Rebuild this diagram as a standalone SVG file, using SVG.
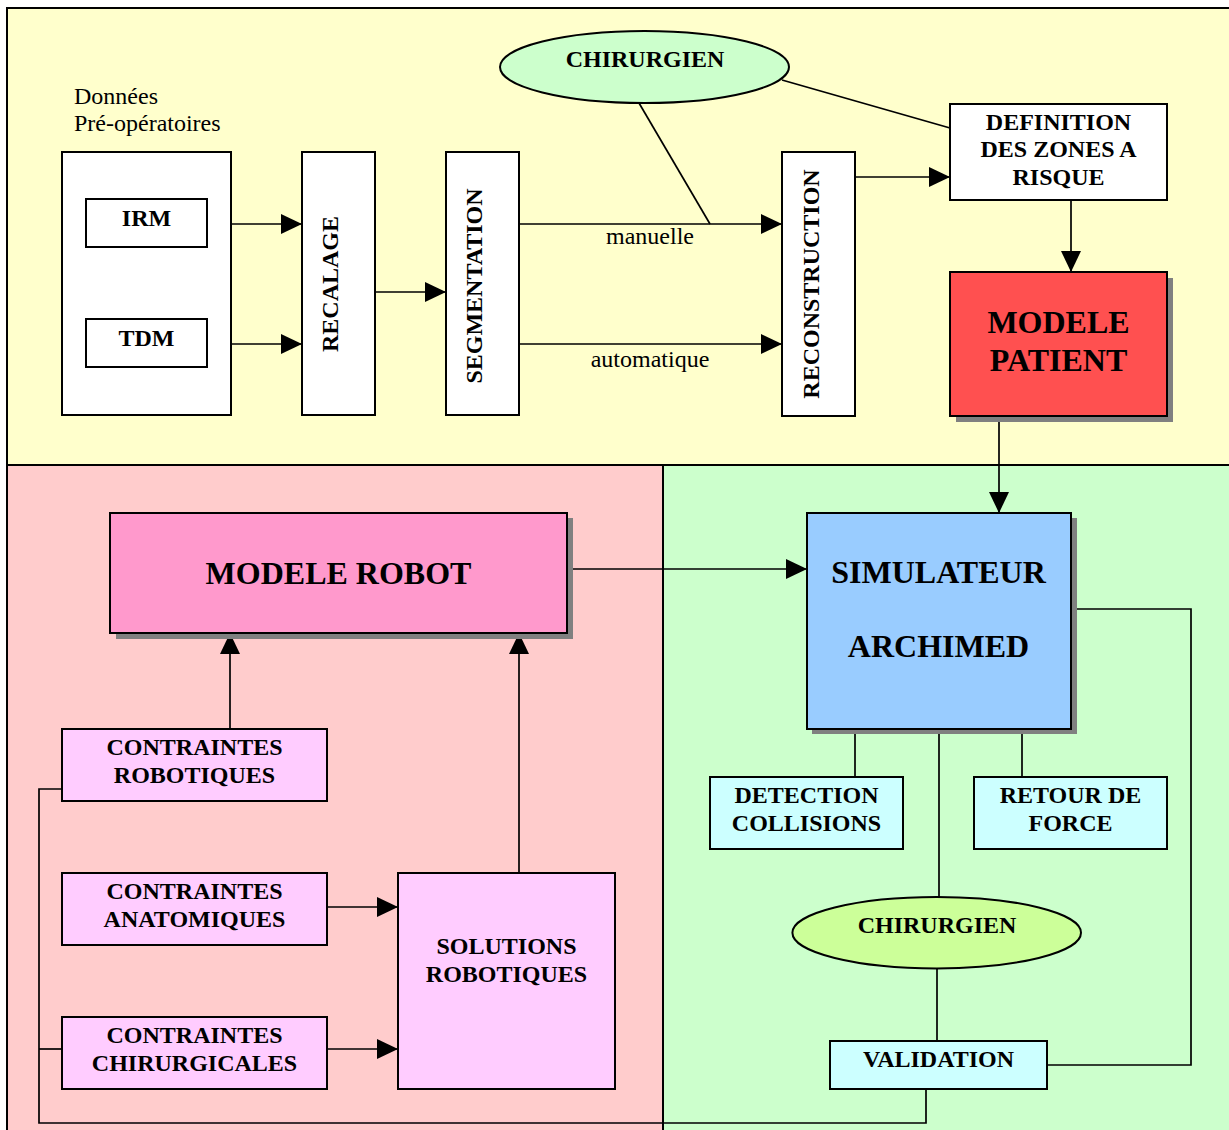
<svg xmlns="http://www.w3.org/2000/svg" width="1229" height="1130" viewBox="0 0 1229 1130">
<defs>
<marker id="arr" viewBox="0 0 21 20" refX="21" refY="10" markerWidth="21" markerHeight="20" markerUnits="userSpaceOnUse" orient="auto">
<path d="M0,0 L21,10 L0,20 Z" fill="#000"/>
</marker>
</defs>
<style>
.panel{stroke:#000;stroke-width:2}
.box{stroke:#000;stroke-width:2}
.shadow{fill:#808080}
.ln{fill:none;stroke:#000;stroke-width:1.7}
.ar{fill:none;stroke:#000;stroke-width:1.7;marker-end:url(#arr)}
.t{font-family:"Liberation Serif","Times New Roman",serif;font-weight:bold;font-size:24px;fill:#000;text-anchor:middle}
.tb{font-family:"Liberation Serif","Times New Roman",serif;font-weight:bold;font-size:32px;fill:#000;text-anchor:middle}
.tr{font-family:"Liberation Serif","Times New Roman",serif;font-size:24px;fill:#000}
</style>
<rect width="1229" height="1130" fill="#fff"/>
<g id="panels">
<rect class="panel" x="7" y="8" width="1240" height="457" fill="#FFFFCC"/>
<rect class="panel" x="7" y="465" width="656" height="680" fill="#FFCCCC"/>
<rect class="panel" x="663" y="465" width="584" height="680" fill="#CCFFCC"/>
</g>
<g id="connectors">
<line class="ar" x1="231" y1="224" x2="302" y2="224"/>
<line class="ar" x1="231" y1="344" x2="302" y2="344"/>
<line class="ar" x1="375" y1="292" x2="446" y2="292"/>
<line class="ar" x1="519" y1="224" x2="782" y2="224"/>
<line class="ar" x1="519" y1="344" x2="782" y2="344"/>
<line class="ln" x1="639" y1="103" x2="710" y2="224"/>
<line class="ln" x1="782" y1="80" x2="950" y2="128"/>
<line class="ar" x1="855" y1="177" x2="950" y2="177"/>
<line class="ar" x1="1071" y1="201" x2="1071" y2="272"/>
<line class="ar" x1="999" y1="416" x2="999" y2="513"/>
<line class="ar" x1="568" y1="569" x2="807" y2="569"/>
<line class="ar" x1="230" y1="729" x2="230" y2="633"/>
<line class="ar" x1="519" y1="873" x2="519" y2="633"/>
<line class="ar" x1="327" y1="907" x2="398" y2="907"/>
<line class="ar" x1="327" y1="1049" x2="398" y2="1049"/>
<polyline class="ln" points="62,789 39,789 39,1123 926,1123 926,1087"/>
<line class="ln" x1="39" y1="1049" x2="62" y2="1049"/>
<line class="ln" x1="855" y1="729" x2="855" y2="777"/>
<line class="ln" x1="1022" y1="729" x2="1022" y2="777"/>
<line class="ln" x1="939" y1="729" x2="939" y2="897"/>
<line class="ln" x1="937" y1="968" x2="937" y2="1041"/>
<polyline class="ln" points="1071,609 1191,609 1191,1065 1047,1065"/>
</g>
<g id="donnees">
<text class="tr" x="74" y="104">Données</text>
<text class="tr" x="74" y="131">Pré-opératoires</text>
<rect class="box" x="62" y="152" width="169" height="263" fill="#fff"/>
</g>
<g id="irm">
<rect class="box" x="86" y="199" width="121" height="48" fill="#fff"/>
<text class="t" x="146.5" y="226">IRM</text>
</g>
<g id="tdm">
<rect class="box" x="86" y="319" width="121" height="48" fill="#fff"/>
<text class="t" x="146.5" y="346">TDM</text>
</g>
<g id="recalage">
<rect class="box" x="302" y="152" width="73" height="263" fill="#fff"/>
<text class="t" transform="translate(338,284) rotate(-90)">RECALAGE</text>
</g>
<g id="segmentation">
<rect class="box" x="446" y="152" width="73" height="263" fill="#fff"/>
<text class="t" transform="translate(482,286) rotate(-90)">SEGMENTATION</text>
</g>
<g id="labels">
<text class="tr" x="650" y="244" text-anchor="middle">manuelle</text>
<text class="tr" x="650" y="367" text-anchor="middle">automatique</text>
</g>
<g id="reconstruction">
<rect class="box" x="782" y="152" width="73" height="264" fill="#fff"/>
<text class="t" transform="translate(819,284) rotate(-90)">RECONSTRUCTION</text>
</g>
<g id="chirurgien1">
<ellipse class="box" cx="644.5" cy="67" rx="144.5" ry="36" fill="#CCFFCC"/>
<text class="t" x="645" y="67">CHIRURGIEN</text>
</g>
<g id="definition">
<rect class="box" x="950" y="104" width="217" height="96" fill="#fff"/>
<text class="t" x="1058.5" y="130">DEFINITION</text>
<text class="t" x="1058.5" y="157">DES ZONES A</text>
<text class="t" x="1058.5" y="185">RISQUE</text>
</g>
<g id="modele-patient">
<rect class="shadow" x="956" y="278" width="217" height="144"/>
<rect class="box" x="950" y="272" width="217" height="144" fill="#FF5050"/>
<text class="tb" x="1058.5" y="333">MODELE</text>
<text class="tb" x="1058.5" y="371">PATIENT</text>
</g>
<g id="modele-robot">
<rect class="shadow" x="116" y="518" width="457" height="121"/>
<rect class="box" x="110" y="513" width="457" height="120" fill="#FF99CC"/>
<text class="tb" x="338.5" y="584">MODELE ROBOT</text>
</g>
<g id="simulateur">
<rect class="shadow" x="812" y="518" width="265" height="216"/>
<rect class="box" x="807" y="513" width="264" height="216" fill="#99CCFF"/>
<text class="tb" x="938.5" y="583">SIMULATEUR</text>
<text class="tb" x="938.5" y="657">ARCHIMED</text>
</g>
<g id="contraintes-robotiques">
<rect class="box" x="62" y="729" width="265" height="72" fill="#FFCCFF"/>
<text class="t" x="194.5" y="755">CONTRAINTES</text>
<text class="t" x="194.5" y="783">ROBOTIQUES</text>
</g>
<g id="contraintes-anatomiques">
<rect class="box" x="62" y="873" width="265" height="72" fill="#FFCCFF"/>
<text class="t" x="194.5" y="899">CONTRAINTES</text>
<text class="t" x="194.5" y="927">ANATOMIQUES</text>
</g>
<g id="contraintes-chirurgicales">
<rect class="box" x="62" y="1017" width="265" height="72" fill="#FFCCFF"/>
<text class="t" x="194.5" y="1043">CONTRAINTES</text>
<text class="t" x="194.5" y="1071">CHIRURGICALES</text>
</g>
<g id="solutions-robotiques">
<rect class="box" x="398" y="873" width="217" height="216" fill="#FFCCFF"/>
<text class="t" x="506.5" y="954">SOLUTIONS</text>
<text class="t" x="506.5" y="982">ROBOTIQUES</text>
</g>
<g id="detection-collisions">
<rect class="box" x="710" y="777" width="193" height="72" fill="#CCFFFF"/>
<text class="t" x="806.5" y="803">DETECTION</text>
<text class="t" x="806.5" y="831">COLLISIONS</text>
</g>
<g id="retour-de-force">
<rect class="box" x="974" y="777" width="193" height="72" fill="#CCFFFF"/>
<text class="t" x="1070.5" y="803">RETOUR DE</text>
<text class="t" x="1070.5" y="831">FORCE</text>
</g>
<g id="chirurgien2">
<ellipse class="box" cx="936.7" cy="932.7" rx="144.3" ry="35.7" fill="#CCFF99"/>
<text class="t" x="937" y="933">CHIRURGIEN</text>
</g>
<g id="validation">
<rect class="box" x="830" y="1041" width="217" height="48" fill="#CCFFFF"/>
<text class="t" x="938.5" y="1067">VALIDATION</text>
</g>
</svg>
